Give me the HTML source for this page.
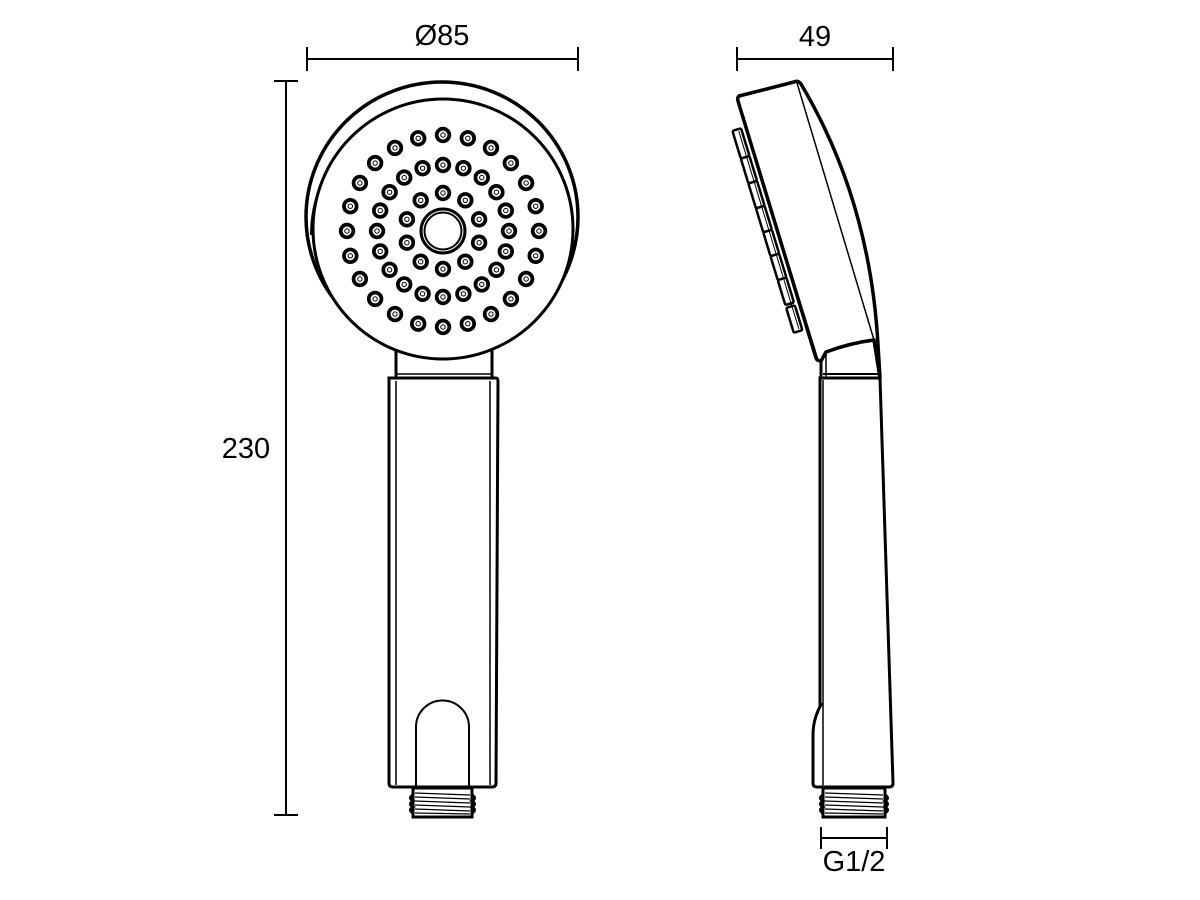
<!DOCTYPE html>
<html><head><meta charset="utf-8"><style>
html,body{margin:0;padding:0;background:#fff;}
body{position:relative;width:1200px;height:900px;overflow:hidden;}
svg{display:block;position:absolute;left:0;top:0;}
.t{position:absolute;font-family:"Liberation Sans",Arial,sans-serif;font-size:29px;color:#000;line-height:1;white-space:nowrap;transform:translateX(-50%);}
</style></head><body>
<svg width="1200" height="900" viewBox="0 0 1200 900" xmlns="http://www.w3.org/2000/svg" xmlns:xlink="http://www.w3.org/1999/xlink">
<defs>
<g id="nz">
<circle r="8.2" fill="#000"/>
<circle r="5" fill="#fff" stroke="#000" stroke-width="1"/>
<circle r="2.2" fill="#fff" stroke="#000" stroke-width="1"/>
</g>
</defs>
<g stroke="#000" fill="none" stroke-linecap="butt">
<line x1="307" y1="59" x2="578" y2="59" stroke-width="2"/>
<line x1="307" y1="47" x2="307" y2="71" stroke-width="2"/>
<line x1="578" y1="47" x2="578" y2="71" stroke-width="2"/>
<line x1="737" y1="59" x2="893" y2="59" stroke-width="2"/>
<line x1="737" y1="47" x2="737" y2="71" stroke-width="2"/>
<line x1="893" y1="47" x2="893" y2="71" stroke-width="2"/>
<line x1="286" y1="81" x2="286" y2="815" stroke-width="2"/>
<line x1="274" y1="81" x2="298" y2="81" stroke-width="2"/>
<line x1="274" y1="815" x2="298" y2="815" stroke-width="2"/>
<line x1="821" y1="838" x2="887" y2="838" stroke-width="2"/>
<line x1="821" y1="827" x2="821" y2="849" stroke-width="2"/>
<line x1="887" y1="827" x2="887" y2="849" stroke-width="2"/>

<path d="M396,340 L396,378 M492,340 L492,378" stroke-width="3"/>
<line x1="396" y1="374" x2="492" y2="374" stroke-width="1.5"/>
<ellipse cx="442" cy="217" rx="136" ry="135" stroke-width="3.5" fill="#fff"/>
<path d="M311,235 A131,132 0 0 1 573,235" stroke-width="2"/>
<circle cx="443" cy="229" r="130" stroke-width="3" fill="#fff"/>
<circle cx="443" cy="231" r="22" stroke-width="3"/>
<circle cx="443" cy="231" r="18.5" stroke-width="2"/>
<path d="M389,378 L496,378 Q498,378 498,382 L496,783 Q496,787 492,787 L393,787 Q389,787 389,783 Z" stroke-width="3" fill="#fff"/>
<line x1="396" y1="381" x2="396" y2="785" stroke-width="1.5"/>
<line x1="490" y1="381" x2="490" y2="785" stroke-width="1.5"/>
<path d="M416,786 L416,727 A26.5,26.5 0 0 1 469,727 L469,786" stroke-width="2"/>
<rect x="413" y="788" width="59" height="29" stroke-width="3" fill="#fff"/>
<path d="M413,795 q-5,3 0,6 q-5,3 0,6 q-5,3 0,6 M472,795 q5,3 0,6 q5,3 0,6 q5,3 0,6" stroke-width="3"/>
<path d="M415,793 L470,795 M415,797 L470,799 M415,801 L470,803 M415,805 L470,807 M415,809 L470,811 M415,813 L470,814" stroke-width="1.2"/>

<path d="M820,378 L880,378 L893,783 Q893,787 889,787 L824,787 Q820,787 820,783 Z" stroke-width="3" fill="#fff"/>
<path d="M822,703 Q813,718 813,735 L813,783 Q813,787 817,787 L822,787" stroke-width="3" fill="#fff"/>
<line x1="823" y1="380" x2="823" y2="785" stroke-width="1.5"/>
<path d="M739,96 Q737,98 738,101 L816,358 Q817,361 821,361 L826,352 Q850,343 874,340 L880,378 L878,345 Q870,200 801,84 Q798,80 794,82 Z" stroke-width="3.5" fill="#fff" stroke-linejoin="round"/>
<path d="M797,83 L874,340" stroke-width="1.5"/>
<path d="M821,361 L821,378" stroke-width="3"/>
<path d="M826,352 L826,378" stroke-width="1.5"/>
<line x1="823" y1="374" x2="878" y2="374" stroke-width="2"/>
<path d="M826,352 Q850,343 874,340" stroke-width="2.5"/>
<path d="M739,104 L818,360" stroke-width="1.5"/>
<g transform="translate(742,128) rotate(73.1)" stroke-width="2.5" fill="#fff">
<rect x="0" y="1" width="29" height="9" rx="1.5"/>
<rect x="29" y="1" width="26" height="9" rx="1.5"/>
<rect x="55" y="1" width="26" height="9" rx="1.5"/>
<rect x="81" y="1" width="25" height="9" rx="1.5"/>
<rect x="106" y="1" width="25" height="9" rx="1.5"/>
<rect x="131" y="1" width="25" height="9" rx="1.5"/>
<rect x="156" y="1" width="26" height="9" rx="1.5"/>
<rect x="185" y="1" width="26" height="9" rx="1.5"/>
<path d="M2,4 L209,4" stroke-width="1"/>
</g>
<rect x="823" y="788" width="62" height="29" stroke-width="3" fill="#fff"/>
<path d="M823,795 q-5,3 0,6 q-5,3 0,6 q-5,3 0,6 M885,795 q5,3 0,6 q5,3 0,6 q5,3 0,6" stroke-width="3"/>
<path d="M825,793 L883,795 M825,797 L883,799 M825,801 L883,803 M825,805 L883,807 M825,809 L883,811 M825,813 L883,814" stroke-width="1.2"/>
</g>

<g>
<use xlink:href="#nz" href="#nz" x="443" y="193"/><use xlink:href="#nz" href="#nz" x="465.3" y="200.3"/><use xlink:href="#nz" href="#nz" x="479.1" y="219.3"/><use xlink:href="#nz" href="#nz" x="479.1" y="242.7"/><use xlink:href="#nz" href="#nz" x="465.3" y="261.7"/><use xlink:href="#nz" href="#nz" x="443" y="269"/><use xlink:href="#nz" href="#nz" x="420.7" y="261.7"/><use xlink:href="#nz" href="#nz" x="406.9" y="242.7"/><use xlink:href="#nz" href="#nz" x="406.9" y="219.3"/><use xlink:href="#nz" href="#nz" x="420.7" y="200.3"/>
</g>
<g>
<use xlink:href="#nz" href="#nz" x="443" y="165"/><use xlink:href="#nz" href="#nz" x="463.4" y="168.2"/><use xlink:href="#nz" href="#nz" x="481.8" y="177.6"/><use xlink:href="#nz" href="#nz" x="496.4" y="192.2"/><use xlink:href="#nz" href="#nz" x="505.8" y="210.6"/><use xlink:href="#nz" href="#nz" x="509" y="231"/><use xlink:href="#nz" href="#nz" x="505.8" y="251.4"/><use xlink:href="#nz" href="#nz" x="496.4" y="269.8"/><use xlink:href="#nz" href="#nz" x="481.8" y="284.4"/><use xlink:href="#nz" href="#nz" x="463.4" y="293.8"/><use xlink:href="#nz" href="#nz" x="443" y="297"/><use xlink:href="#nz" href="#nz" x="422.6" y="293.8"/><use xlink:href="#nz" href="#nz" x="404.2" y="284.4"/><use xlink:href="#nz" href="#nz" x="389.6" y="269.8"/><use xlink:href="#nz" href="#nz" x="380.2" y="251.4"/><use xlink:href="#nz" href="#nz" x="377" y="231"/><use xlink:href="#nz" href="#nz" x="380.2" y="210.6"/><use xlink:href="#nz" href="#nz" x="389.6" y="192.2"/><use xlink:href="#nz" href="#nz" x="404.2" y="177.6"/><use xlink:href="#nz" href="#nz" x="422.6" y="168.2"/>
</g>
<g>
<use xlink:href="#nz" href="#nz" x="443" y="135"/><use xlink:href="#nz" href="#nz" x="467.8" y="138.3"/><use xlink:href="#nz" href="#nz" x="491" y="147.9"/><use xlink:href="#nz" href="#nz" x="510.9" y="163.1"/><use xlink:href="#nz" href="#nz" x="526.1" y="183"/><use xlink:href="#nz" href="#nz" x="535.7" y="206.2"/><use xlink:href="#nz" href="#nz" x="539" y="231"/><use xlink:href="#nz" href="#nz" x="535.7" y="255.8"/><use xlink:href="#nz" href="#nz" x="526.1" y="279"/><use xlink:href="#nz" href="#nz" x="510.9" y="298.9"/><use xlink:href="#nz" href="#nz" x="491" y="314.1"/><use xlink:href="#nz" href="#nz" x="467.8" y="323.7"/><use xlink:href="#nz" href="#nz" x="443" y="327"/><use xlink:href="#nz" href="#nz" x="418.2" y="323.7"/><use xlink:href="#nz" href="#nz" x="395" y="314.1"/><use xlink:href="#nz" href="#nz" x="375.1" y="298.9"/><use xlink:href="#nz" href="#nz" x="359.9" y="279"/><use xlink:href="#nz" href="#nz" x="350.3" y="255.8"/><use xlink:href="#nz" href="#nz" x="347" y="231"/><use xlink:href="#nz" href="#nz" x="350.3" y="206.2"/><use xlink:href="#nz" href="#nz" x="359.9" y="183"/><use xlink:href="#nz" href="#nz" x="375.1" y="163.1"/><use xlink:href="#nz" href="#nz" x="395" y="147.9"/><use xlink:href="#nz" href="#nz" x="418.2" y="138.3"/>
</g>
</svg>
<div class="t" style="left:442px;top:22px;">Ø85</div>
<div class="t" style="left:815px;top:23px;">49</div>
<div class="t" style="left:246px;top:435px;">230</div>
<div class="t" style="left:854px;top:848px;">G1/2</div>
</body></html>
